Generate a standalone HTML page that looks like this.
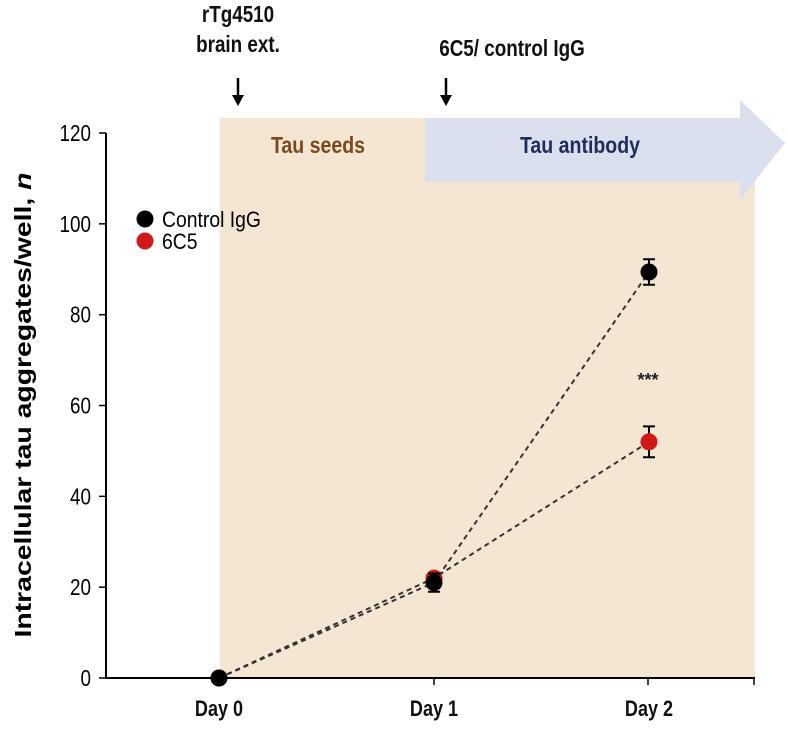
<!DOCTYPE html>
<html><head><meta charset="utf-8"><style>
body{margin:0;background:#fff}
text{font-family:"Liberation Sans",Arial,sans-serif}
</style></head><body>
<svg id="chart" width="788" height="726" viewBox="0 0 788 726" xmlns="http://www.w3.org/2000/svg">
<rect x="220" y="118" width="535" height="560" fill="#f5e6d3"/>
<polygon points="425,118 740,118 740,100 785,143 740,200 740,182 425,182" fill="#dae0ed"/>
<text x="318" y="153" text-anchor="middle" font-size="23" font-weight="bold" fill="#7a4a1a" transform="translate(318,0) scale(0.85,1) translate(-318,0)">Tau seeds</text>
<text x="580" y="153" text-anchor="middle" font-size="23" font-weight="bold" fill="#1f2d5a" transform="translate(580,0) scale(0.85,1) translate(-580,0)">Tau antibody</text>
<g font-weight="bold" font-size="23" fill="#111">
<text x="238" y="22" text-anchor="middle" transform="translate(238,0) scale(0.82,1) translate(-238,0)">rTg4510</text>
<text x="238" y="52" text-anchor="middle" transform="translate(238,0) scale(0.82,1) translate(-238,0)">brain ext.</text>
<text x="512" y="56" text-anchor="middle" transform="translate(512,0) scale(0.82,1) translate(-512,0)">6C5/ control IgG</text>
</g>
<g stroke="#000" stroke-width="2.5" fill="#000">
<line x1="238" y1="78" x2="238" y2="98"/><polygon points="232,95 244,95 238,106" stroke="none"/>
<line x1="446" y1="78" x2="446" y2="98"/><polygon points="440,95 452,95 446,106" stroke="none"/>
</g>
<g id="axes"></g>
<g id="marks"></g>
<text transform="translate(31,405) rotate(-90)" text-anchor="middle" font-size="23" font-weight="bold" fill="#000" textLength="465" lengthAdjust="spacingAndGlyphs">Intracellular tau aggregates/well, <tspan font-style="italic">n</tspan></text>
<text x="648" y="386" text-anchor="middle" font-size="18" font-weight="bold" fill="#222">***</text>
<g>
<circle cx="145" cy="219" r="8.5" fill="#000"/>
<text x="162" y="227" font-size="22" fill="#000" transform="translate(162,0) scale(0.88,1) translate(-162,0)">Control IgG</text>
<circle cx="145" cy="241" r="8.5" fill="#d01818"/>
<text x="162" y="249" font-size="22" fill="#000" transform="translate(162,0) scale(0.88,1) translate(-162,0)">6C5</text>
</g>
</svg>
<script>
const categories=["Day 0","Day 1","Day 2"];
const controlValues=[0,21,89.4];
const controlErrors=[0,2,2.8];
const c6c5Values=[0,22,52];
const c6c5Errors=[0,0,3.4];
const yTicks=[0,20,40,60,80,100,120];
const NS="http://www.w3.org/2000/svg";
function y(v){return 678-v*(545/120);}
function x(i){return [219,434,649][i];}
function mk(t,a,p){const e=document.createElementNS(NS,t);for(const k in a)e.setAttribute(k,a[k]);p.appendChild(e);return e;}
const ax=document.getElementById('axes'),mg=document.getElementById('marks');
let l=mk('line',{x1:106,y1:133,x2:106,y2:679,stroke:'#000','stroke-width':2},ax);


l=mk('line',{x1:105,y1:678,x2:755,y2:678,stroke:'#000','stroke-width':2},ax);


yTicks.forEach(v=>{
 const t=mk('line',{x1:99,y1:y(v),x2:106,y2:y(v),stroke:'#000','stroke-width':1.5},ax);
 
 
 const tx=mk('text',{x:91,y:y(v)+8,'text-anchor':'end','font-size':23,fill:'#000',transform:`translate(91,0) scale(0.82,1) translate(-91,0)`},ax);
 tx.textContent=v;
 
 
});
[434,648,754].forEach(px=>{
 const t=mk('line',{x1:px,y1:678,x2:px,y2:685,stroke:'#000','stroke-width':1.5},ax);
 
 
});
categories.forEach((c,i)=>{
 const tx=mk('text',{x:x(i),y:716,'text-anchor':'middle','font-size':22,'font-weight':'bold',fill:'#111',transform:`translate(${x(i)},0) scale(0.82,1) translate(${-x(i)},0)`},ax);
 tx.textContent=c;
 
 
});
function series(vals,errs,color,name){
 const g=mk('g',{},mg);
 
 
 const p=mk('polyline',{points:vals.map((v,i)=>x(i)+','+y(v)).join(' '),fill:'none',stroke:'#333','stroke-width':2,'stroke-dasharray':'5,4'},g);
 
 
 vals.forEach((v,i)=>{
  if(errs[i]>0){
   const e=mk('path',{d:`M${x(i)},${y(v+errs[i])}V${y(v-errs[i])}M${x(i)-6},${y(v+errs[i])}h12M${x(i)-6},${y(v-errs[i])}h12`,stroke:'#000','stroke-width':2,fill:'none'},g);
   
   
  }
  const c=mk('circle',{cx:x(i),cy:y(v),r:8.5,fill:color},g);
  
  
 });
}
series(c6c5Values,c6c5Errors,'#d01818','6c5');
series(controlValues,controlErrors,'#000','control-igg');
</script>
</body></html>
